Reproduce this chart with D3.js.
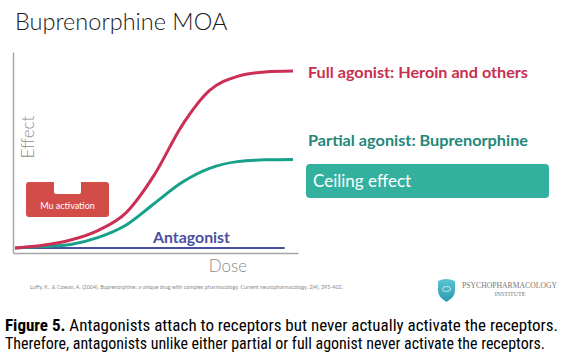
<!DOCTYPE html>
<html><head><meta charset="utf-8">
<script src="https://cdn.jsdelivr.net/npm/d3@7"></script>
<style>
html,body{margin:0;padding:0;background:#fff;}
svg{display:block;}
</style></head>
<body>
<script>
// ---- data ----
const dose = [0, 1, 2, 3, 4, 5, 6, 7, 8, 9, 10];
const fullAgonist = [0, 1.5, 4.5, 10, 20, 41, 69, 89, 97, 99.5, 100];
const partialAgonist = [0, 0.8, 2, 6, 13, 25, 37, 45, 48.8, 49.8, 50];
const antagonistDose = [0, 9.7];
const antagonist = [0, 0];
const seriesLabels = ["Full agonist: Heroin and others", "Partial agonist: Buprenorphine", "Antagonist"];
const title = "Buprenorphine MOA";
const xLabel = "Dose", yLabel = "Effect";
const boxLabels = ["Mu activation", "Ceiling effect"];
const citation = "Luffy, K., & Cowan, A. (2004). Buprenorphine: a unique drug with complex pharmacology. Current neuropharmacology, 2(4), 395-402.";
const captionBold = "Figure 5.";
const captionLine1 = "Antagonists attach to receptors but never actually activate the receptors.";
const captionLine2 = "Therefore, antagonists unlike either partial or full agonist never activate the receptors.";

const W = 567, H = 360;
const svg = d3.select("body").append("svg").attr("width", W).attr("height", H);

const x = d3.scaleLinear().domain([0, 10]).range([15, 293]);
const y = d3.scaleLinear().domain([0, 100]).range([248, 71]);

// title
svg.append("text").attr("x", 15).attr("y", 30)
  .style("font-family", "Lato, 'Open Sans', sans-serif").style("font-weight", 300)
  .style("font-size", "23.5px").attr("fill", "#1a1a1a").text(title);

// axes (no ticks)
const xAxisScale = d3.scaleLinear().domain([0, 1]).range([13, 298]);
const yAxisScale = d3.scaleLinear().domain([0, 1]).range([253, 52]);
const gx = svg.append("g").attr("transform", "translate(0,253)")
  .call(d3.axisBottom(xAxisScale).ticks(0).tickSize(0).tickSizeOuter(0));
const gy = svg.append("g").attr("transform", "translate(13,0)")
  .call(d3.axisLeft(yAxisScale).ticks(0).tickSize(0).tickSizeOuter(0));
[gx, gy].forEach(g => g.select(".domain").attr("stroke", "#a6a6a6").attr("stroke-width", 1.5));

svg.append("text").attr("transform", "translate(34,137) rotate(-90)")
  .attr("text-anchor", "middle")
  .style("font-family", "Lato, 'Open Sans', sans-serif").style("font-weight", 300)
  .style("font-size", "17px").attr("fill", "#8c8c8c").text(yLabel);
svg.append("text").attr("x", 228).attr("y", 272).attr("text-anchor", "middle")
  .style("font-family", "Lato, 'Open Sans', sans-serif").style("font-weight", 300)
  .style("font-size", "17px").attr("fill", "#8c8c8c").text(xLabel);

// lines
const line = d3.line().x(d => x(d[0])).y(d => y(d[1])).curve(d3.curveMonotoneX);
svg.append("path").datum(antagonistDose.map((d, i) => [d, antagonist[i]]))
  .attr("d", line).attr("fill", "none").attr("stroke", "#4a4fa3").attr("stroke-width", 2);
svg.append("path").datum(dose.map((d, i) => [d, partialAgonist[i]]))
  .attr("d", line).attr("fill", "none").attr("stroke", "#17a08a").attr("stroke-width", 3);
svg.append("path").datum(dose.map((d, i) => [d, fullAgonist[i]]))
  .attr("d", line).attr("fill", "none").attr("stroke", "#cc2f55").attr("stroke-width", 3);

// series labels
const lab = (t, xx, yy, c, len) => svg.append("text").attr("x", xx).attr("y", yy)
  .attr("textLength", len).attr("lengthAdjust", "spacingAndGlyphs")
  .style("font-family", "Lato, 'Open Sans', sans-serif").style("font-weight", 700)
  .style("font-size", "16px").attr("fill", c).text(t);
lab(seriesLabels[0], 308, 78, "#c8304d", 220);
lab(seriesLabels[1], 308, 146, "#23877a", 220);
lab(seriesLabels[2], 153, 243, "#4b4fa0", 77);

// Mu activation box with notch
const mu = d3.path();
const bx0 = 26, bx1 = 109, by0 = 182, by1 = 217, r = 3, nx0 = 54, nx1 = 81, ny = 194;
mu.moveTo(bx0 + r, by0);
mu.lineTo(nx0, by0);
mu.lineTo(nx0, ny - 2); mu.quadraticCurveTo(nx0, ny, nx0 + 2, ny);
mu.lineTo(nx1 - 2, ny); mu.quadraticCurveTo(nx1, ny, nx1, ny - 2);
mu.lineTo(nx1, by0);
mu.lineTo(bx1 - r, by0); mu.quadraticCurveTo(bx1, by0, bx1, by0 + r);
mu.lineTo(bx1, by1 - r); mu.quadraticCurveTo(bx1, by1, bx1 - r, by1);
mu.lineTo(bx0 + r, by1); mu.quadraticCurveTo(bx0, by1, bx0, by1 - r);
mu.lineTo(bx0, by0 + r); mu.quadraticCurveTo(bx0, by0, bx0 + r, by0);
mu.closePath();
svg.append("path").attr("d", mu.toString()).attr("fill", "#d24c48");
svg.append("text").attr("x", 67.5).attr("y", 208.5).attr("text-anchor", "middle")
  .style("font-family", "Lato, 'Open Sans', sans-serif").style("font-size", "9px")
  .attr("fill", "#fff").text(boxLabels[0]);

// Ceiling effect box
svg.append("rect").attr("x", 306).attr("y", 164).attr("width", 243).attr("height", 34)
  .attr("rx", 4).attr("fill", "#33b09e");
svg.append("text").attr("x", 313).attr("y", 187)
  .style("font-family", "Lato, 'Open Sans', sans-serif").style("font-size", "17px")
  .attr("fill", "#fff").text(boxLabels[1]);

// citation
svg.append("text").attr("x", 30).attr("y", 289).attr("textLength", 313).attr("lengthAdjust", "spacingAndGlyphs")
  .style("font-family", "Lato, sans-serif").style("font-size", "5px").attr("fill", "#888").text(citation);

// logo
const defs = svg.append("defs");
const gr = defs.append("linearGradient").attr("id", "lg").attr("x1", 0).attr("y1", 0).attr("x2", 0).attr("y2", 1);
gr.append("stop").attr("offset", 0).attr("stop-color", "#5cc3d4");
gr.append("stop").attr("offset", 1).attr("stop-color", "#2a9bb0");
svg.append("path").attr("d", "M438,281 Q446,277 455,281 L455,291 Q455,297 446.5,302 Q438,297 438,291 Z").attr("fill", "url(#lg)");
svg.append("ellipse").attr("cx", 446.5).attr("cy", 289).attr("rx", 4).attr("ry", 2.5)
  .attr("fill", "none").attr("stroke", "#fff").attr("stroke-width", 0.7);
svg.append("text").attr("x", 462).attr("y", 288).attr("textLength", 95).attr("lengthAdjust", "spacingAndGlyphs")
  .style("font-family", "'Liberation Serif', serif").style("font-size", "8px").attr("fill", "#777").text("PSYCHOPHARMACOLOGY");
svg.append("text").attr("x", 510).attr("y", 296).attr("text-anchor", "middle")
  .style("font-family", "'Liberation Serif', serif").style("font-size", "6px").attr("fill", "#777").text("INSTITUTE");

// caption
const cap = svg.append("g").style("font-family", "'Liberation Sans Narrow', 'Roboto Condensed', 'Arial Narrow', Roboto, sans-serif")
  .style("font-size", "16.5px").attr("fill", "#000");
const t1 = cap.append("text").attr("x", 5).attr("y", 331).attr("textLength", 553).attr("lengthAdjust", "spacingAndGlyphs");
t1.append("tspan").style("font-weight", 700).text(captionBold);
t1.append("tspan").text(" " + captionLine1);
cap.append("text").attr("x", 5).attr("y", 349).attr("textLength", 540).attr("lengthAdjust", "spacingAndGlyphs").text(captionLine2);
</script>
</body></html>
